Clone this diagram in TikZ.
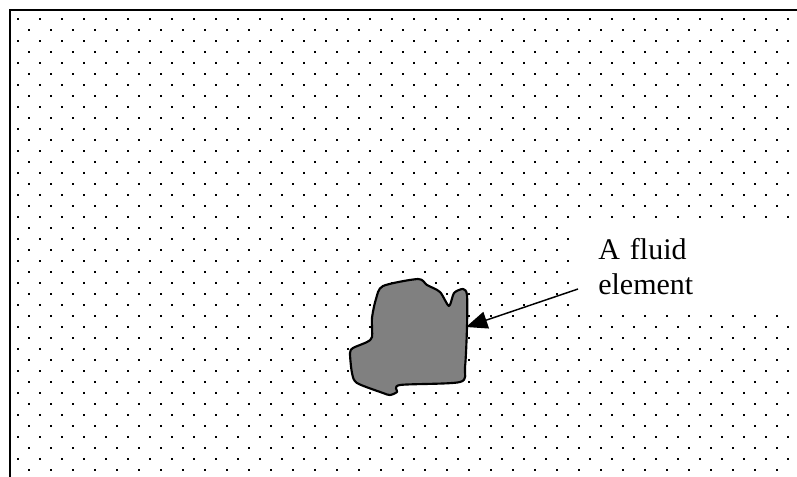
\documentclass[tikz,border=0pt]{standalone}
\usepackage{fontspec}
\setmainfont{Liberation Serif}
\usepackage{xcolor}
\usepackage{tikz}
\usetikzlibrary{arrows.meta}

\definecolor{fluidgray}{RGB}{128,128,128}

\begin{document}
\begin{tikzpicture}[x=0.75pt, y=-0.75pt,
    frame/.style={draw=black, line width=1.8pt},
    dot/.style={fill=black},
    element/.style={draw=black, fill=fluidgray, line width=1.6pt, line join=round},
    labelbox/.style={rectangle, fill=white, inner xsep=15pt, inner ysep=0pt,
                     text width=150pt, minimum height=70.5pt, align=left,
                     font=\fontsize{22.5}{26.5}\selectfont},
    pointer/.style={-{Triangle[length=16pt, width=13pt]}, line width=1.1pt}]

\useasboundingbox (0,0) rectangle (797,476);
\clip (0,0) rectangle (797,476);

% dotted background
\foreach \r in {0,...,41} {
  \pgfmathsetmacro\xo{18+11*mod(\r,2)}
  \foreach \k in {0,...,35}
    \fill[dot] (\xo+22*\k-1.2, 19+11*\r-1.2) rectangle +(2.4,2.4);
}

\draw[frame] (10,480) -- (10,10) -- (800,10);

% the fluid element
\draw[element] plot[smooth cycle, tension=0.45] coordinates {
  (383,286) (418,279) (427,285) (440,292) (449,306) (454,293) (463,289)
  (467,295) (467,327) (465,367) (460,382) (400,385) (397,392) (390,395)
  (383,393) (357,383) (352,373) (350,353) (353,348) (367,342) (372,337)
  (372,318) (376,299)};
\coordinate (tip) at (466,327);

\node[labelbox, anchor=north west] (label) at (578,219) {A fluid\\element};
\coordinate (start) at (578,289);

\draw[pointer] (start) -- (tip);
\end{tikzpicture}
\end{document}
